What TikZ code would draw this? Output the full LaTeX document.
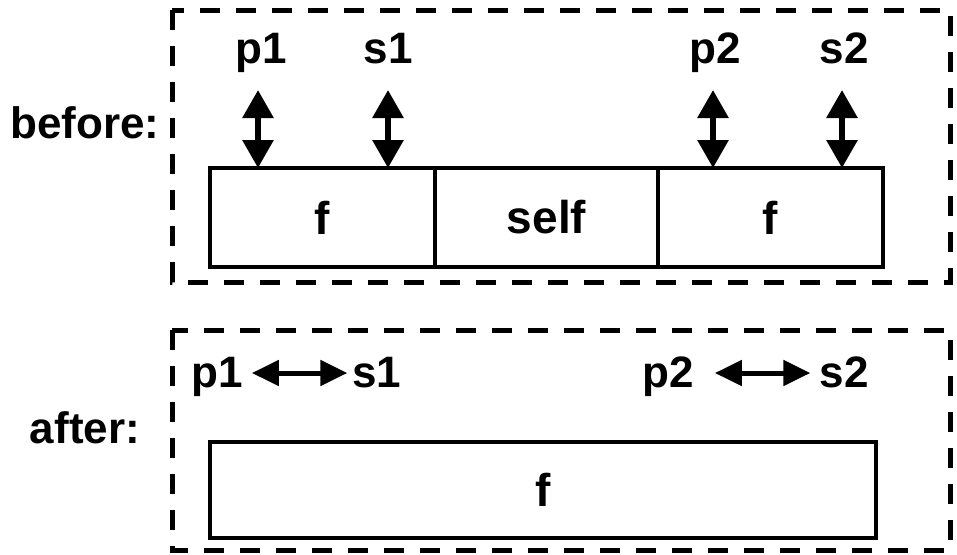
\documentclass[tikz,border=0pt]{standalone}
\usepackage{fontspec}
\setmainfont{Liberation Sans}
\usetikzlibrary{arrows.meta}
\begin{document}
\begin{tikzpicture}[x=1pt,y=-1pt,
  lbl/.style={font=\fontsize{44}{50}\selectfont\bfseries, inner sep=0pt, anchor=base},
  frame/.style={draw, line width=5pt, dash pattern=on 20pt off 16pt},
  cell/.style={draw, line width=4pt, inner sep=0pt, outer sep=0pt, anchor=north west,
    font=\fontsize{46}{52}\selectfont\bfseries},
  biarrow/.style={line width=6pt, {Triangle[width=30pt,length=28pt]}-{Triangle[width=30pt,length=28pt]}},
  sidearrow/.style={line width=5pt, {Triangle[width=25pt,length=27pt]}-{Triangle[width=25pt,length=27pt]}},
]
\useasboundingbox (0,0) rectangle (957,554);

% dashed frames for the two states
\draw[frame] (172,10) rectangle (950,282);
\draw[frame] (172,330) rectangle (950,550);

% state labels
\node[lbl] (before) at (85,138) {before:};
\node[lbl] (after) at (85,443) {after:};

% before: three cells
\node[cell, minimum width=225pt, minimum height=99pt] (fa) at (210,168) {f};
\node[cell, minimum width=223pt, minimum height=99pt] (self) at (435,168) {self};
\node[cell, minimum width=225pt, minimum height=99pt] (fb) at (658,168) {f};

% pointer labels above the cells
\node[lbl] (p1t) at (261,63) {p1};
\node[lbl] (s1t) at (388,63) {s1};
\node[lbl] (p2t) at (715,63) {p2};
\node[lbl] (s2t) at (844,63) {s2};

\coordinate (ap1) at (258,90);
\coordinate (as1) at (388,90);
\coordinate (ap2) at (713,90);
\coordinate (as2) at (842,90);

\draw[biarrow] (ap1) -- (ap1 |- fa.north);
\draw[biarrow] (as1) -- (as1 |- fa.north);
\draw[biarrow] (ap2) -- (ap2 |- fb.north);
\draw[biarrow] (as2) -- (as2 |- fb.north);

% after: one merged cell
\node[cell, minimum width=666pt, minimum height=96pt] (fm) at (210,442) {f};

\node[lbl] (p1b) at (217,387) {p1};
\node[lbl] (s1b) at (377,387) {s1};
\node[lbl] (p2b) at (668,387) {p2};
\node[lbl] (s2b) at (844,387) {s2};

\draw[sidearrow] ([xshift=9pt,yshift=14pt]p1b.base east) -- ([xshift=-5pt,yshift=14pt]s1b.base west);
\draw[sidearrow] ([xshift=21pt,yshift=14pt]p2b.base east) -- ([xshift=-9pt,yshift=14pt]s2b.base west);
\end{tikzpicture}
\end{document}
